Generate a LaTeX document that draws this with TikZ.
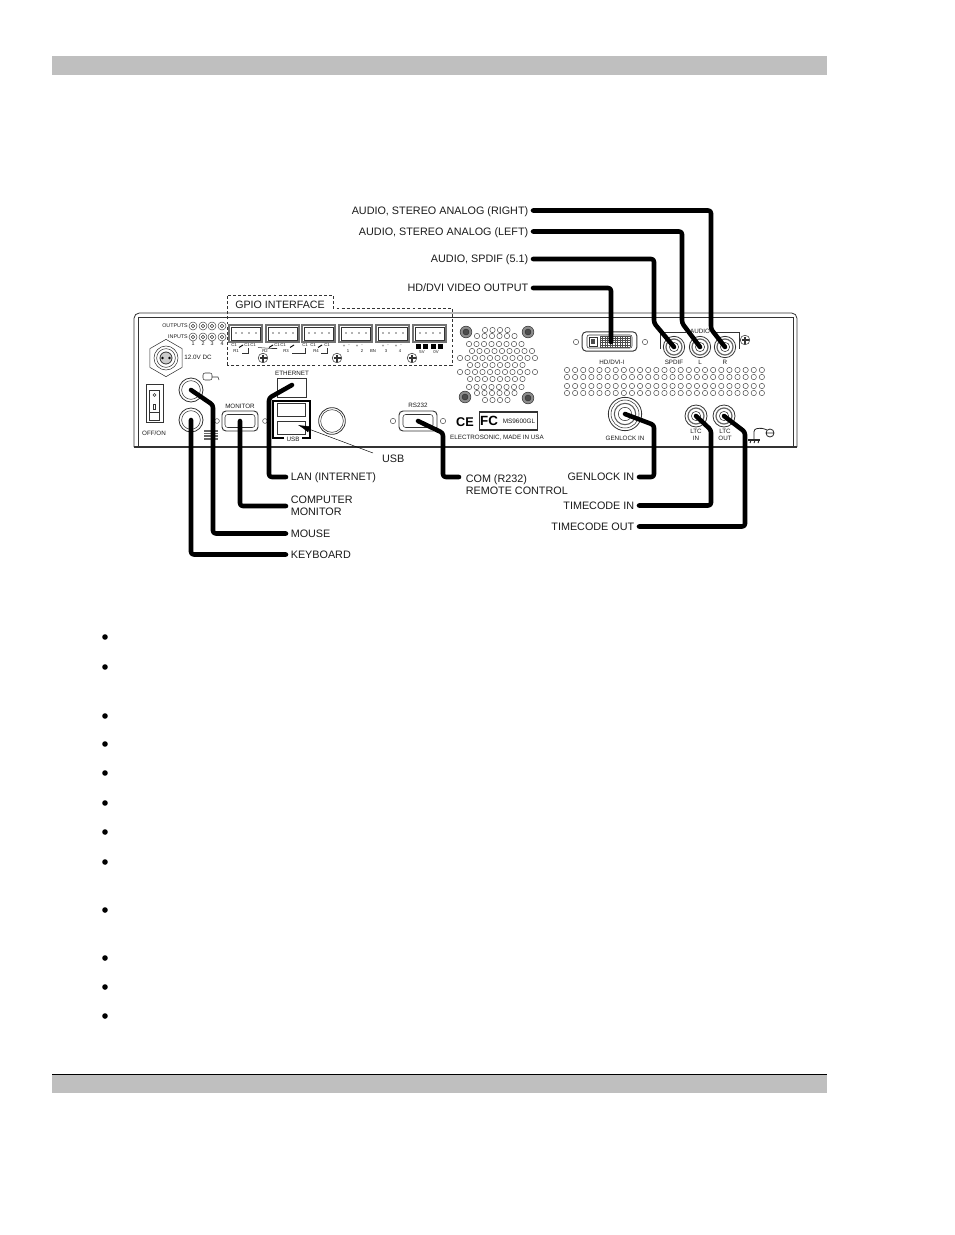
\documentclass[tikz,border=0pt]{standalone}
\usepackage{fontspec}
\setmainfont{Liberation Sans}
\usetikzlibrary{shapes.geometric,arrows.meta}
\definecolor{barg}{HTML}{BFBFBF}
\definecolor{ink}{HTML}{1A1A1A}
\tikzset{
  bar/.style={fill=barg,draw=none},
  lab/.style={font=\fontsize{8.1}{9.2}\selectfont,text=ink,inner sep=0pt,outer sep=3.6pt,text height=5.8pt,text depth=0pt},
  labm/.style={font=\fontsize{8.1}{9.2}\selectfont,text=ink,inner sep=0pt,outer sep=3.6pt,align=left},
  tiny/.style={font=\fontsize{4.7}{5}\selectfont,text=ink,inner sep=0pt,align=center},
  micro/.style={font=\fontsize{4}{4.5}\selectfont,text=ink,inner sep=0pt},
  nano/.style={font=\fontsize{3.2}{4}\selectfont,text=ink,inner sep=0pt},
  cable/.style={line width=3.4pt,line cap=round,line join=round,rounded corners=2pt,black},
  case/.style={line width=.6pt,draw=black!80},
  hair/.style={line width=.4pt,draw=black!80},
  hole/.style={line width=.35pt,draw=black!75,fill=white},
  rdash/.style={line width=.45pt,draw=black!80,dash pattern=on 2.2pt off 1.6pt},
  port/.style={circle,inner sep=0pt,line width=.6pt,draw=black!80,fill=white},
  box/.style={rectangle,inner sep=0pt,line width=.6pt,draw=black!80,fill=white},
  conn/.style={rectangle,rounded corners=3pt,inner sep=0pt,line width=.7pt,draw=black!80,fill=white},
  bullet/.style={circle,fill=black,inner sep=0pt,minimum size=4.2pt}
}
\newcommand{\myscrew}[2]{\draw[hair,fill=white] (#1,#2) circle (3.6pt);
  \draw[line width=.8pt,black!80] (#1-3.5,#2) -- (#1+3.5,#2) (#1,#2-3.5) -- (#1,#2+3.5);}
\newcommand{\myfan}[2]{\draw[hair,fill=black!45] (#1,#2) circle (4.4pt);
  \draw[hair,fill=black!70] (#1,#2) circle (2.2pt);}
\begin{document}
\begin{tikzpicture}[x=.75pt,y=-.75pt]
\useasboundingbox (0,0) rectangle (954,1235);
% header and footer bars
\path[bar] (52,56) rectangle (827,75);
\path[bar] (52,1074) rectangle (827,1093);
\draw[line width=.6pt,black] (52,1074) -- (827,1074);
% case
\draw[case,rounded corners=4pt] (134,447) -- (134,313) -- (797,313) -- (797,447);
\draw[case] (138,447) -- (138,317) -- (793,317) -- (793,447);
\draw[line width=.9pt,black!80] (134,447) -- (797,447);
% GPIO dashed
\draw[rdash] (227,365) -- (227,295) -- (333,295) -- (333,308) -- (452,308) -- (452,365) -- cycle;
\node[font=\fontsize{8}{9}\selectfont,text=ink,inner sep=0pt] (gpio) at (280,305) {GPIO INTERFACE};
% LEDs
\foreach \x in {193,203,212,222}{\foreach \y in {326,337}{
  \draw[hole] (\x,\y) circle (3pt);\draw[hair] (\x,\y) circle (1.3pt);}}
\node[micro,anchor=east] (outs) at (188,326) {OUTPUTS};
\node[micro,anchor=east] (ins) at (188,337) {INPUTS};
\foreach \x/\t in {193/1,203/2,212/3,222/4}{\node[micro] at (\x,344) {\t};}
% terminal blocks
\foreach \x in {229,266,302,339,376,413}{
  \draw[line width=.9pt,black!55,fill=white] (\x,325) rectangle (\x+33,342);
  \draw[hair] (\x+2,327) rectangle (\x+31,340);
  \foreach \d in {7,13,20,27}{\fill[black!60] (\x+\d,333) circle (.6pt);}
}
\foreach \x/\t in {236/R1,265/R2,286/R3,316/R4}{\node[nano] at (\x,351) {\t};}
\foreach \x in {234,247,253,277,283,305,313,327}{\node[nano] at (\x,345.5) {C1};}
\foreach \x in {241,271,292,320}{\draw[line width=.7pt,black] (\x-2,347.5) -- (\x+2,345);}
\draw[hair] (242,353) -- (248,353) -- (248,348);
\draw[hair] (258,347.5) -- (272,348.5) -- (277,348.5);
\draw[hair] (292,353) -- (305,353) -- (305,348);
\draw[hair] (321,353) -- (327,353) -- (327,348);
\foreach \x/\t in {344/+,349/-,357/+,362/-,383/+,388/-,396/+,401/-}{\node[nano] at (\x,346) {\t};}
\foreach \x/\t in {348/1,362/2,373/BN,386/3,400/4}{\node[nano] at (\x,351) {\t};}
\foreach \x in {418,425,433,440}{\fill[black] (\x-2.5,344) rectangle (\x+2.5,349);}
\node[nano] at (422,352.5) {5V};\node[nano] at (436,352.5) {0V};
\myscrew{263}{358}\myscrew{337}{358}\myscrew{412}{358}
% power
\node[regular polygon,regular polygon sides=6,shape border rotate=30,minimum size=28pt,inner sep=0pt,hair,draw] (power) at (166,358) {};
\draw[hair] (166,358) circle (9pt);\draw[hair] (166,358) circle (7pt);
\draw[line width=.6pt,black!80,fill=black!20] (166,358) circle (4.5pt);
\fill[black] (162.5,358) circle (1pt) (169.5,358) circle (1pt);
\node[tiny] (dc) at (198,357) {12.0V DC};
% switch
\node[box,minimum width=12.7pt,minimum height=29pt] (switch) at (154.5,403.5) {};
\draw[hair] (149.5,390) rectangle (159,420);
\draw[hair] (149.5,412) rectangle (159,420);
\draw[hair] (154.5,395) circle (1.2pt);
\draw[hair] (153.5,404) rectangle (155.5,409);
\node[tiny] (onoff) at (154,433) {OFF/ON};
% mouse / keyboard
\node[port,minimum size=18pt] (mouse) at (191,390) {};
\draw[hair] (191,390) circle (7pt);
\node[port,minimum size=18pt] (kbd) at (191,420) {};
\draw[hair] (191,420) circle (7pt);
\draw[hair,rounded corners=1.5pt] (203,373) rectangle (212,380);
\draw[hair] (212,377) -- (218,377) -- (219,380);
\fill[black!60] (204,430) rectangle (218,440);
\foreach \y in {432,434.5,437}{\draw[white,line width=.3pt] (204,\y) -- (218,\y);}
% monitor
\node[tiny] (monlab) at (240,406) {MONITOR};
\node[conn,minimum width=27pt,minimum height=15pt] (monitor) at (240,421) {};
\draw[hair,rounded corners=2pt] (225,414.5) rectangle (255,427.5);
\draw[hole] (217,421) circle (1.8pt);\draw[hole] (265,421) circle (1.8pt);
% ethernet / USB
\node[tiny] (ethlab) at (292,373) {ETHERNET};
\node[box,minimum width=21.7pt,minimum height=14.2pt] (eth) at (291.5,387.5) {};
\coordinate (ethend) at (292,385);
\draw[line width=.9pt,black] (284,438) -- (273,438) -- (273,401) -- (310,401) -- (310,438) -- (302,438);
\node[tiny] (usblab) at (293,439) {USB};
\node[box,line width=.5pt,minimum width=21pt,minimum height=10pt] (usb1) at (291.5,410) {};
\node[box,line width=.5pt,minimum width=21pt,minimum height=10pt] (usb2) at (291.5,427.5) {};
\node[port,minimum size=20pt] (knock) at (332,421) {};
\draw[hair] (332,421) circle (8.5pt);
% RS232
\node[tiny] (rslab) at (418,405) {RS232};
\node[conn,minimum width=28.5pt,minimum height=15pt] (rs) at (418,421) {};
\draw[hair,rounded corners=2pt] (403,414.5) rectangle (433,427.5);
\draw[hole] (393,421) circle (2pt);\draw[hole] (443,421) circle (2pt);
% marks
\node[font=\fontsize{9.5}{10}\selectfont\bfseries,inner sep=0pt] (ce) at (465,422) {CE};
\node[box,line width=.8pt,minimum width=44pt,minimum height=13.5pt] (fcbox) at (508.5,421) {};
\node[font=\fontsize{10}{10}\selectfont\bfseries,inner sep=0pt] (fc) at (489,421) {FC};
\node[font=\fontsize{4.8}{5}\selectfont,text=ink,inner sep=0pt] (model) at (519,421) {MS9600GL};
\node[tiny] (maker) at (497,438) {ELECTROSONIC, MADE IN USA};
% fan grille
\foreach \y/\s/\n in {330/485/3,336/477/5,344/469/7,351/472/8,358/460/10,365/470/7,372/460/10,379/470/7,387/469/7,393/477/5,400/485/3}{
  \foreach \i in {0,...,\n}{\draw[hole] (\s+\i*7.5,\y) circle (2pt);}}
\myfan{466}{332}\myfan{528}{332}\myfan{465}{397}\myfan{528}{398}
% vent grille
\foreach \y in {370,377,386,393}{\foreach \i in {0,...,24}{\draw[hole] (567+\i*8.12,\y) circle (2pt);}}
% DVI
\node[conn,minimum width=41pt,minimum height=14.5pt] (dvi) at (609.5,341.5) {};
\draw[hair,rounded corners=1.5pt] (587,335) rectangle (632,348);
\draw[hair] (589,337) rectangle (597,346);
\fill[black!70] (591,339) rectangle (595,344);
\foreach \x in {600,602.5,...,630}{\draw[line width=.25pt,black!70] (\x,336) -- (\x,347);}
\foreach \y in {336,338.2,...,347}{\draw[line width=.25pt,black!70] (600,\y) -- (630,\y);}
\draw[hole] (576,342) circle (2pt);\draw[hole] (645,342) circle (2pt);
\node[tiny] (dvilab) at (612,362) {HD/DVI-I};
% audio
\draw[hair] (660,349) -- (660,332) -- (686,332);
\draw[hair] (714,332) -- (739,332) -- (739,349);
\node[tiny] (audlab) at (700,331) {AUDIO};
\node[port,minimum size=16pt] (spdif) at (674,347) {};
\node[port,minimum size=16pt] (rcal) at (700,347) {};
\node[port,minimum size=16pt] (rcar) at (725,347) {};
\foreach \n in {spdif,rcal,rcar}{\draw[line width=.9pt,black!60] (\n) circle (6pt);\draw[hair] (\n) circle (3.5pt);}
\myscrew{745}{340}
\node[tiny] at (674,362) {SPDIF};\node[tiny] at (700,362) {L};\node[tiny] at (725,362) {R};
% genlock / LTC
\node[port,minimum size=25pt] (gen) at (625,414) {};
\draw[hair] (gen) circle (10.5pt);\draw[line width=.8pt,black!65] (gen) circle (8pt);\draw[hair] (gen) circle (5pt);
\node[tiny] (genlab) at (625,438) {GENLOCK IN};
\node[port,minimum size=16.5pt] (ltci) at (696,416) {};
\node[port,minimum size=16.5pt] (ltco) at (724,416) {};
\foreach \n in {ltci,ltco}{\draw[line width=.9pt,black!60] (\n) circle (6pt);\draw[hair] (\n) circle (3.5pt);}
\node[tiny] at (696,435) {LTC\\IN};
\node[tiny] at (725,435) {LTC\\OUT};
% ground symbol
\draw[line width=.8pt,black!85] (748,440) -- (760,440);
\draw[line width=.7pt,black!85] (751,440) -- (750,443) (755,440) -- (754,443) (759,440) -- (758,443);
\draw[line width=.6pt,black!85,rounded corners=2pt] (754,440) -- (754,429) -- (762,428) -- (767,430);
\draw[line width=.6pt,black!85] (770,433) circle (3pt) (766,433) -- (774,433);
% USB leader
\coordinate (usbfoot) at (373,453);
\coordinate (usbtip) at (298,425);
\node[lab,anchor=west,outer sep=0pt] (usbcall) at (382,459) {USB};
\draw[line width=.35pt,black,-{Latex[length=9pt,width=5pt]}] (usbfoot) -- (usbtip);
% labels
\node[lab,anchor=east] (lR) at (533,210.5) {AUDIO, STEREO ANALOG (RIGHT)};
\node[lab,anchor=east] (lL) at (533,231.5) {AUDIO, STEREO ANALOG (LEFT)};
\node[lab,anchor=east] (lS) at (533,259) {AUDIO, SPDIF (5.1)};
\node[lab,anchor=east] (lH) at (533,288) {HD/DVI VIDEO OUTPUT};
\node[lab,anchor=west] (lLan) at (286,477) {LAN (INTERNET)};
\node[labm,anchor=west] (lMon) at (286,506) {COMPUTER\\MONITOR};
\node[lab,anchor=west] (lMou) at (286,533.5) {MOUSE};
\node[lab,anchor=west] (lKey) at (286,554.5) {KEYBOARD};
\node[labm,anchor=north west] (lCom) at (461,469.5) {COM (R232)\\REMOTE CONTROL};
\coordinate (lComIn) at (459,477);
\node[lab,anchor=east] (lGen) at (639,477) {GENLOCK IN};
\node[lab,anchor=east] (lTi) at (639,505.5) {TIMECODE IN};
\node[lab,anchor=east] (lTo) at (639,526.5) {TIMECODE OUT};
% cables
\draw[cable] (lR.east) -| (711,329) -- (rcar.center);
\draw[cable] (lL.east) -| (682,323) -- (rcal.center);
\draw[cable] (lS.east) -| (654,323) -- (spdif.center);
\draw[cable] (lH.east) -| (611,342);
\draw[cable] (lKey.west) -| (kbd.center);
\draw[cable] (lMou.west) -| (213,405) -- (mouse.center);
\draw[cable] (lMon.west) -| (monitor.center);
\draw[cable] (lLan.west) -| (269,398) -- (ethend);
\draw[cable] (lComIn) -| (443,433) -- (rs.center);
\draw[cable] (lGen.east) -| (654,425) -- (gen.center);
\draw[cable] (lTi.east) -| (711,430) -- (ltci.center);
\draw[cable] (lTo.east) -| (745,432) -- (ltco.center);
% bullets
\foreach \y in {637,667,716,744,773,803,832,862,910,958,987,1016}{\node[bullet] at (105,\y) {};}
\end{tikzpicture}
\end{document}
